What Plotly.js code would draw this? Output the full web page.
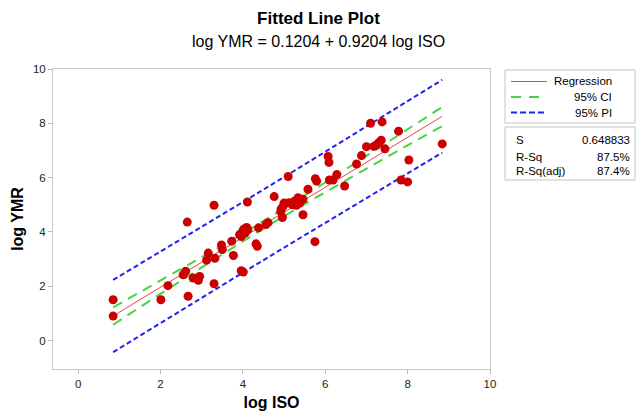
<!DOCTYPE html>
<html>
<head>
<meta charset="utf-8">
<script src="https://cdn.plot.ly/plotly-3.0.1.min.js"></script>
<style>html,body{margin:0;padding:0;background:#fff;}#chart{width:637px;height:414px;}</style>
</head>
<body>
<div id="chart"></div>
<script>
// Observed points (log ISO, log YMR)
const logISO = [0.85,0.85,2.01,2.18,2.67,2.65,2.55,2.61,2.79,2.89,2.95,2.92,3.30,3.30,3.16,3.12,3.32,3.48,3.50,3.73,
  3.77,3.96,4.01,3.92,3.96,4.00,4.05,4.09,4.12,4.02,4.11,4.32,4.35,4.38,4.56,4.61,4.76,4.96,4.93,5.00,
  4.98,5.10,5.12,5.20,5.26,5.34,5.38,5.46,5.30,5.46,5.58,5.75,5.76,5.79,6.07,6.09,6.10,6.19,6.28,6.47,
  6.76,6.88,7.00,7.10,7.38,7.18,7.24,7.30,7.36,7.45,7.78,8.03,7.84,8.00,8.84,4.92];
const logYMR = [1.50,0.90,1.50,2.02,1.63,4.36,2.42,2.55,2.30,2.27,2.36,2.22,2.09,4.98,3.22,2.96,3.03,3.52,3.35,3.66,
  3.13,2.57,2.52,3.90,3.83,4.04,3.95,4.16,4.08,4.10,5.10,3.56,3.47,4.15,4.27,4.34,5.30,4.53,4.85,5.06,
  4.95,6.04,5.07,5.00,5.14,5.26,5.06,5.20,4.98,4.63,5.57,3.64,5.96,5.87,6.78,6.56,5.91,5.91,6.11,5.69,
  6.50,6.81,7.14,8.00,8.05,7.15,7.20,7.29,7.38,7.06,7.71,6.65,5.91,5.84,7.24,4.75];

// Fitted line and bands
const bandX   = [0.85, 2, 3, 4, 5, 6, 7, 8, 8.84];
const fitY    = [0.903, 1.961, 2.882, 3.802, 4.722, 5.643, 6.563, 7.484, 8.257];
const ciUpper = [1.22, 2.21, 3.07, 3.95, 4.87, 5.82, 6.80, 7.78, 8.60];
const ciLower = [0.58, 1.72, 2.69, 3.65, 4.58, 5.46, 6.33, 7.19, 7.90];
const piUpper = [2.23, 3.27, 4.19, 5.10, 6.02, 6.95, 7.87, 8.81, 9.60];
const piLower = [-0.43, 0.65, 1.58, 2.50, 3.42, 4.34, 5.25, 6.16, 6.92];

const xTicks = [0, 2, 4, 6, 8, 10];
const yTicks = [0, 2, 4, 6, 8, 10];

const titleText = 'Fitted Line Plot';
const subtitleText = 'log YMR = 0.1204 + 0.9204 log ISO';
const legendLabels = ['Regression', '95% CI', '95% PI'];
const statLabels = ['S', 'R-Sq', 'R-Sq(adj)'];
const statValues = ['0.648833', '87.5%', '87.4%'];

const FONT = 'Liberation Sans, Arial, sans-serif';
const RED_LINE = '#e8454a', GREEN = '#44d444', BLUE = '#2222ee', PT = '#cc0000';

const traces = [
  {x: bandX, y: piUpper, mode: 'lines', line: {color: BLUE, width: 2, dash: '5px,3px'}, hoverinfo: 'skip'},
  {x: bandX, y: piLower, mode: 'lines', line: {color: BLUE, width: 2, dash: '5px,3px'}, hoverinfo: 'skip'},
  {x: bandX, y: ciUpper, mode: 'lines', line: {color: GREEN, width: 2, dash: '10px,7px', shape: 'spline'}, hoverinfo: 'skip'},
  {x: bandX, y: ciLower, mode: 'lines', line: {color: GREEN, width: 2, dash: '10px,7px', shape: 'spline'}, hoverinfo: 'skip'},
  {x: bandX, y: fitY, mode: 'lines', line: {color: RED_LINE, width: 1}, hoverinfo: 'skip'},
  {x: logISO, y: logYMR, mode: 'markers', marker: {color: PT, size: 9, line: {width: 0}}}
];

// legend / stats boxes in paper coords (plot area 53..490 x, 69..369 y)
const px = v => (v - 53) / 437;
const py = v => (369 - v) / 300;

const shapes = [
  {type: 'rect', xref: 'paper', yref: 'paper', x0: px(505), x1: px(635), y0: py(123), y1: py(70), line: {color: '#c4c4c4', width: 1}},
  {type: 'rect', xref: 'paper', yref: 'paper', x0: px(505), x1: px(635), y0: py(180), y1: py(127), line: {color: '#c4c4c4', width: 1}},
  {type: 'line', xref: 'paper', yref: 'paper', x0: px(511), x1: px(547), y0: py(81.5), y1: py(81.5), line: {color: RED_LINE, width: 1}},
  {type: 'line', xref: 'paper', yref: 'paper', x0: px(511), x1: px(542), y0: py(97), y1: py(97), line: {color: GREEN, width: 2, dash: '10px,8px'}},
  {type: 'line', xref: 'paper', yref: 'paper', x0: px(511), x1: px(546), y0: py(112.5), y1: py(112.5), line: {color: BLUE, width: 2, dash: '6px,3px'}}
];

const annotations = [
  {text: subtitleText, xref: 'paper', yref: 'paper', x: px(318.5), y: py(42), showarrow: false,
   font: {family: FONT, size: 16, color: '#000'}, xanchor: 'center', yanchor: 'middle'}
];
const legY = [81.5, 97, 112.5];
legendLabels.forEach((t, i) => annotations.push({text: t, xref: 'paper', yref: 'paper', x: px(614), y: py(legY[i]),
  showarrow: false, xanchor: 'right', yanchor: 'middle', font: {family: FONT, size: 11.5, color: '#000'}}));
const statY = [139.5, 156.5, 171];
statLabels.forEach((t, i) => annotations.push({text: t, xref: 'paper', yref: 'paper', x: px(514), y: py(statY[i]),
  showarrow: false, xanchor: 'left', yanchor: 'middle', font: {family: FONT, size: 11.5, color: '#000'}}));
statValues.forEach((t, i) => annotations.push({text: t, xref: 'paper', yref: 'paper', x: px(632), y: py(statY[i]),
  showarrow: false, xanchor: 'right', yanchor: 'middle', font: {family: FONT, size: 11.5, color: '#000'}}));

const layout = {
  width: 637, height: 414,
  margin: {l: 53, r: 147, t: 69, b: 45, pad: 0},
  paper_bgcolor: '#fff', plot_bgcolor: '#fff',
  showlegend: false,
  font: {family: FONT, color: '#222'},
  title: {text: '<b>' + titleText + '</b>', font: {family: FONT, size: 17, color: '#000'},
    xref: 'container', x: 0.5, xanchor: 'center', yref: 'container', y: 1 - 18/414, yanchor: 'middle'},
  xaxis: {
    range: [-0.61, 10], tickvals: xTicks, ticktext: xTicks.map(String),
    showgrid: false, zeroline: false, showline: true, mirror: true, linecolor: '#c8c8c8', linewidth: 1,
    ticks: 'outside', ticklen: 4, tickcolor: '#bdbdbd', tickfont: {family: FONT, size: 11.5, color: '#222'},
    title: {text: '<b>log ISO</b>', font: {family: FONT, size: 16, color: '#000'}, standoff: 8}
  },
  yaxis: {
    range: [-1.05, 10], tickvals: yTicks, ticktext: yTicks.map(String),
    showgrid: false, zeroline: false, showline: true, mirror: true, linecolor: '#c8c8c8', linewidth: 1,
    ticks: 'outside', ticklen: 4, tickcolor: '#bdbdbd', tickfont: {family: FONT, size: 11.5, color: '#222'},
    title: {text: '<b>log YMR</b>', font: {family: FONT, size: 16, color: '#000'}, standoff: 5}
  },
  shapes: shapes,
  annotations: annotations
};

Plotly.newPlot('chart', traces, layout, {displayModeBar: false, staticPlot: true});
</script>
</body>
</html>
